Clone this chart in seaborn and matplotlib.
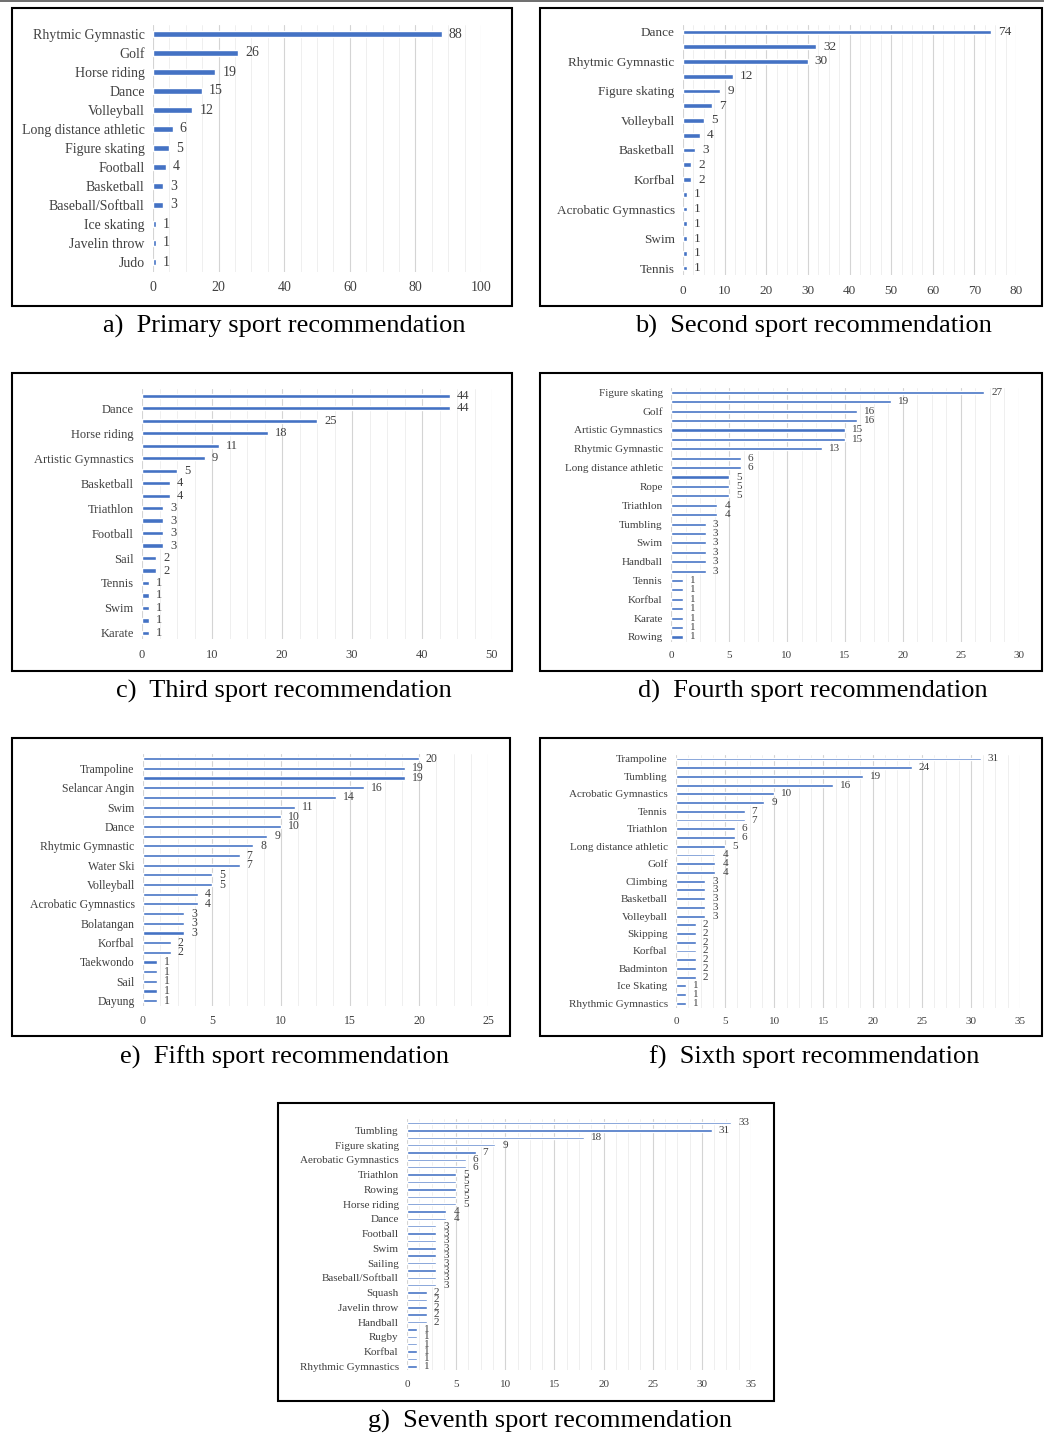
import pandas as pd
import matplotlib
matplotlib.use('Agg')
import matplotlib.pyplot as plt
from matplotlib.patches import Rectangle
from matplotlib.lines import Line2D
from matplotlib.ticker import MultipleLocator
import seaborn as sns

# Values. '' = category whose label the chart skipped.
sports_a = ['Rhytmic Gymnastic', 'Golf', 'Horse riding', 'Dance', 'Volleyball',
            'Long distance athletic', 'Figure skating', 'Football', 'Basketball',
            'Baseball/Softball', 'Ice skating', 'Javelin throw', 'Judo']
counts_a = [88, 26, 19, 15, 12, 6, 5, 4, 3, 3, 1, 1, 1]

sports_b = ['Dance', '', 'Rhytmic Gymnastic', '', 'Figure skating', '', 'Volleyball', '',
            'Basketball', '', 'Korfbal', '', 'Acrobatic Gymnastics', '', 'Swim', '', 'Tennis']
counts_b = [74, 32, 30, 12, 9, 7, 5, 4, 3, 2, 2, 1, 1, 1, 1, 1, 1]

sports_c = ['', 'Dance', '', 'Horse riding', '', 'Artistic Gymnastics', '', 'Basketball', '',
            'Triathlon', '', 'Football', '', 'Sail', '', 'Tennis', '', 'Swim', '', 'Karate']
counts_c = [44, 44, 25, 18, 11, 9, 5, 4, 4, 3, 3, 3, 3, 2, 2, 1, 1, 1, 1, 1]

sports_d = ['Figure skating', '', 'Golf', '', 'Artistic Gymnastics', '', 'Rhytmic Gymnastic', '',
            'Long distance athletic', '', 'Rope', '', 'Triathlon', '', 'Tumbling', '', 'Swim', '',
            'Handball', '', 'Tennis', '', 'Korfbal', '', 'Karate', '', 'Rowing']
counts_d = [27, 19, 16, 16, 15, 15, 13, 6, 6, 5, 5, 5, 4, 4, 3, 3, 3, 3, 3, 3, 1, 1, 1, 1, 1, 1, 1]

sports_e = ['', 'Trampoline', '', 'Selancar Angin', '', 'Swim', '', 'Dance', '',
            'Rhytmic Gymnastic', '', 'Water Ski', '', 'Volleyball', '', 'Acrobatic Gymnastics', '',
            'Bolatangan', '', 'Korfbal', '', 'Taekwondo', '', 'Sail', '', 'Dayung']
counts_e = [20, 19, 19, 16, 14, 11, 10, 10, 9, 8, 7, 7, 5, 5, 4, 4, 3, 3, 3, 2, 2, 1, 1, 1, 1, 1]

sports_f = ['Trampoline', '', 'Tumbling', '', 'Acrobatic Gymnastics', '', 'Tennis', '',
            'Triathlon', '', 'Long distance athletic', '', 'Golf', '', 'Climbing', '',
            'Basketball', '', 'Volleyball', '', 'Skipping', '', 'Korfbal', '', 'Badminton', '',
            'Ice Skating', '', 'Rhythmic Gymnastics']
counts_f = [31, 24, 19, 16, 10, 9, 7, 7, 6, 6, 5, 4, 4, 4, 3, 3, 3, 3, 3, 2, 2, 2, 2, 2, 2, 2, 1, 1, 1]

sports_g = ['', 'Tumbling', '', 'Figure skating', '', 'Aerobatic Gymnastics', '', 'Triathlon', '',
            'Rowing', '', 'Horse riding', '', 'Dance', '', 'Football', '', 'Swim', '', 'Sailing', '',
            'Baseball/Softball', '', 'Squash', '', 'Javelin throw', '', 'Handball', '', 'Rugby', '',
            'Korfbal', '', 'Rhythmic Gymnastics']
counts_g = [33, 31, 18, 9, 7, 6, 6, 5, 5, 5, 5, 5, 4, 4, 3, 3, 3, 3, 3, 3, 3, 3, 3,
            2, 2, 2, 2, 2, 1, 1, 1, 1, 1, 1]

captions = ['a)  Primary sport recommendation', 'b)  Second sport recommendation',
            'c)  Third sport recommendation', 'd)  Fourth sport recommendation',
            'e)  Fifth sport recommendation', 'f)  Sixth sport recommendation',
            'g)  Seventh sport recommendation']
x_max = [100, 80, 50, 30, 25, 35, 35]
x_step = [20, 10, 10, 5, 5, 5, 5]

# layout in pixels (figure is 1044 x 1433): frame box, plot area, caption centre
W, H = 1044, 1433
frames = [(12, 8, 512, 306), (540, 8, 1042, 306),
          (12, 373, 512, 671), (540, 373, 1042, 671),
          (12, 738, 510, 1036), (540, 738, 1042, 1036),
          (278, 1103, 774, 1401)]
areas = [(153, 24.5, 481, 271.5), (683, 24.6, 1016, 275.4),
         (142, 389.4, 492, 639.2), (671, 387.6, 1019, 641.7),
         (143, 753.9, 488, 1005.5), (676, 754.6, 1020, 1007.7),
         (407, 1119.3, 751, 1370)]
cap_pos = [(284, 326), (813, 326), (284, 691), (813, 691),
           (284, 1057), (814, 1057), (550, 1421)]
font_sizes = [10, 9.5, 9, 8, 8.5, 8, 8]

BAR = '#4472C4'
TXT = '#404040'

sns.set_theme(style='white')
plt.rcParams['font.family'] = ['Liberation Serif', 'DejaVu Serif']

fig = plt.figure(figsize=(W / 100, H / 100), dpi=100)

all_sports = [sports_a, sports_b, sports_c, sports_d, sports_e, sports_f, sports_g]
all_counts = [counts_a, counts_b, counts_c, counts_d, counts_e, counts_f, counts_g]

for i in range(7):
    sports, counts = all_sports[i], all_counts[i]
    l, t, r, b = areas[i]
    ax = fig.add_axes([l / W, 1 - b / H, (r - l) / W, (b - t) / H])
    df = pd.DataFrame({'rank': range(len(counts)), 'count': counts})
    sns.barplot(data=df, x='count', y='rank', orient='h', color=BAR, saturation=1,
                width=0.33, ax=ax)
    fs = font_sizes[i]
    ax.bar_label(ax.containers[0], padding=5, fontsize=fs, color=TXT)

    ax.set_xlim(0, x_max[i])
    ax.set_ylim(len(counts) - 0.5, -0.5)
    ax.xaxis.set_major_locator(MultipleLocator(x_step[i]))
    ax.xaxis.set_minor_locator(MultipleLocator(x_step[i] / 4))
    ax.set_yticks(range(len(counts)))
    ax.set_yticklabels(sports)
    ax.grid(axis='x', which='major', color='#d4d4d4', linewidth=0.8)
    ax.grid(axis='x', which='minor', color='#ededed', linewidth=0.6)
    ax.set_axisbelow(True)
    ax.tick_params(which='both', length=0, labelsize=fs, colors=TXT)
    ax.tick_params(axis='y', pad=6)
    ax.tick_params(axis='x', pad=7)
    ax.set_xlabel('')
    ax.set_ylabel('')
    sns.despine(ax=ax, left=True, bottom=True)

    x0, y0, x1, y1 = frames[i]
    fig.add_artist(Rectangle((x0 / W, 1 - y1 / H), (x1 - x0) / W, (y1 - y0) / H,
                             transform=fig.transFigure, fill=False,
                             edgecolor='black', linewidth=1.5))
    cx, cy = cap_pos[i]
    fig.text(cx / W, 1 - cy / H, captions[i], ha='center', va='center',
             fontsize=19, color='black')

# thin rule along the top edge of the page
fig.add_artist(Line2D([0, 1], [1 - 1 / H, 1 - 1 / H], transform=fig.transFigure,
                      color='#555555', linewidth=1.2))

fig.savefig('out.png', dpi=100, facecolor='white')
